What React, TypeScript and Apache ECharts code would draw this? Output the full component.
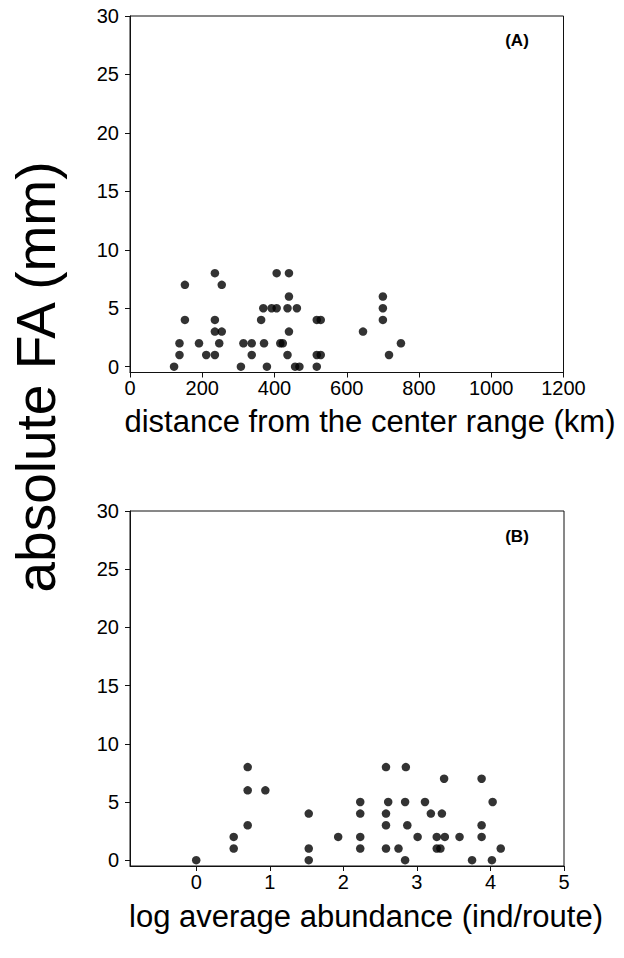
import React, { useEffect, useRef } from "react";
import * as echarts from "echarts";

// Panel A: distance from the center range (km) vs absolute FA (mm)
const distanceKm = [122, 137, 137, 152, 152, 191, 211, 235, 235, 235, 235, 254, 254, 247, 307, 314, 337, 337, 363, 369, 371, 379, 392, 406, 406, 416, 423, 436, 440, 440, 436, 440, 462, 457, 469, 517, 517, 528, 517, 528, 645, 700, 700, 700, 717, 750];
const faA = [0, 2, 1, 7, 4, 2, 1, 8, 4, 3, 1, 7, 3, 2, 0, 2, 2, 1, 4, 5, 2, 0, 5, 5, 8, 2, 2, 1, 8, 6, 5, 3, 5, 0, 0, 0, 1, 1, 4, 4, 3, 6, 5, 4, 1, 2];

// Panel B: log average abundance (ind/route) vs absolute FA (mm)
const logAbundance = [0, 0.51, 0.51, 0.7, 0.7, 0.7, 0.94, 1.53, 1.53, 1.53, 1.93, 2.23, 2.23, 2.23, 2.23, 2.58, 2.61, 2.58, 2.58, 2.58, 2.75, 2.85, 2.84, 2.87, 2.84, 3.01, 3.11, 3.19, 3.27, 3.27, 3.32, 3.34, 3.37, 3.38, 3.58, 3.75, 3.88, 3.88, 3.88, 4.02, 4.03, 4.14];
const faB = [0, 2, 1, 8, 6, 3, 6, 4, 1, 0, 2, 5, 4, 2, 1, 8, 5, 4, 3, 1, 1, 8, 5, 3, 0, 2, 5, 4, 2, 1, 1, 4, 7, 2, 2, 0, 7, 3, 2, 0, 5, 1];

const yTicks = [0, 5, 10, 15, 20, 25, 30];
const xTicksA = [0, 200, 400, 600, 800, 1000, 1200];
const xTicksB = [0, 1, 2, 3, 4, 5];

const yTitle = "absolute FA (mm)";
const xTitleA = "distance from the center range (km)";
const xTitleB = "log average abundance (ind/route)";

const FONT = "'Liberation Sans', Arial, Helvetica, sans-serif";

export default function App() {
  const ref = useRef<HTMLDivElement>(null);
  useEffect(() => {
    if (!ref.current) return;
    const chart = echarts.init(ref.current, null, { renderer: "svg" });
    const axisLine = { show: true, onZero: false, lineStyle: { color: "#111", width: 1 } };
    const axisTick = (vals: number[]) => ({
      show: true,
      inside: false,
      length: 5,
      customValues: vals,
      lineStyle: { color: "#111", width: 1 },
    });
    const plain = (v: number) => String(v);
    const yAxisCommon = (gi: number) => ({
      type: "value",
      gridIndex: gi,
      min: -0.5,
      max: 30,
      axisLine,
      axisTick: axisTick(yTicks),
      axisLabel: {
        customValues: yTicks,
        formatter: plain,
        fontFamily: FONT,
        fontSize: 20,
        color: "#000",
        margin: 11,
      },
      splitLine: { show: false },
    });
    chart.setOption({
      animation: false,
      backgroundColor: "#fff",
      grid: [
        { left: 130, right: 60.5, top: 16, height: 356.5, show: true, borderColor: "#111", borderWidth: 1, containLabel: false },
        { left: 130, right: 60, top: 511, height: 355, show: true, borderColor: "#111", borderWidth: 1, containLabel: false },
      ],
      xAxis: [
        {
          type: "value",
          gridIndex: 0,
          min: 0,
          max: 1200,
          axisLine,
          axisTick: axisTick(xTicksA),
          axisLabel: { customValues: xTicksA, formatter: plain, fontFamily: FONT, fontSize: 20, color: "#000", margin: 5 },
          splitLine: { show: false },
        },
        {
          type: "value",
          gridIndex: 1,
          min: -0.9,
          max: 5,
          axisLine,
          axisTick: axisTick(xTicksB),
          axisLabel: { customValues: xTicksB, formatter: plain, fontFamily: FONT, fontSize: 20, color: "#000", margin: 6 },
          splitLine: { show: false },
        },
      ],
      yAxis: [yAxisCommon(0), yAxisCommon(1)],
      series: [
        {
          type: "scatter",
          xAxisIndex: 0,
          yAxisIndex: 0,
          symbol: "circle",
          symbolSize: 8.5,
          itemStyle: { color: "#000" },
          data: distanceKm.map((d, i) => [d, faA[i]]),
        },
        {
          type: "scatter",
          xAxisIndex: 1,
          yAxisIndex: 1,
          symbol: "circle",
          symbolSize: 8.5,
          itemStyle: { color: "#000" },
          data: logAbundance.map((d, i) => [d, faB[i]]),
        },
      ],
      graphic: [
        {
          type: "text",
          x: 36,
          y: 377,
          rotation: Math.PI / 2,
          style: { text: yTitle, fontFamily: FONT, fontSize: 55, fill: "#000", textAlign: "center", textVerticalAlign: "middle" },
        },
        {
          type: "text",
          x: 370,
          y: 421,
          style: { text: xTitleA, fontFamily: FONT, fontSize: 31, fill: "#000", textAlign: "center", textVerticalAlign: "middle" },
        },
        {
          type: "text",
          x: 366,
          y: 916,
          style: { text: xTitleB, fontFamily: FONT, fontSize: 31, fill: "#000", textAlign: "center", textVerticalAlign: "middle" },
        },
        {
          type: "text",
          x: 517,
          y: 40,
          style: { text: "(A)", fontFamily: FONT, fontSize: 17, fontWeight: "bold", fill: "#000", textAlign: "center", textVerticalAlign: "middle" },
        },
        {
          type: "text",
          x: 517,
          y: 536,
          style: { text: "(B)", fontFamily: FONT, fontSize: 17, fontWeight: "bold", fill: "#000", textAlign: "center", textVerticalAlign: "middle" },
        },
      ],
    });
    return () => chart.dispose();
  }, []);
  return (
    <div
      ref={ref}
      style={{ position: "fixed", left: 0, top: 0, width: 624, height: 958, background: "#fff" }}
    />
  );
}
